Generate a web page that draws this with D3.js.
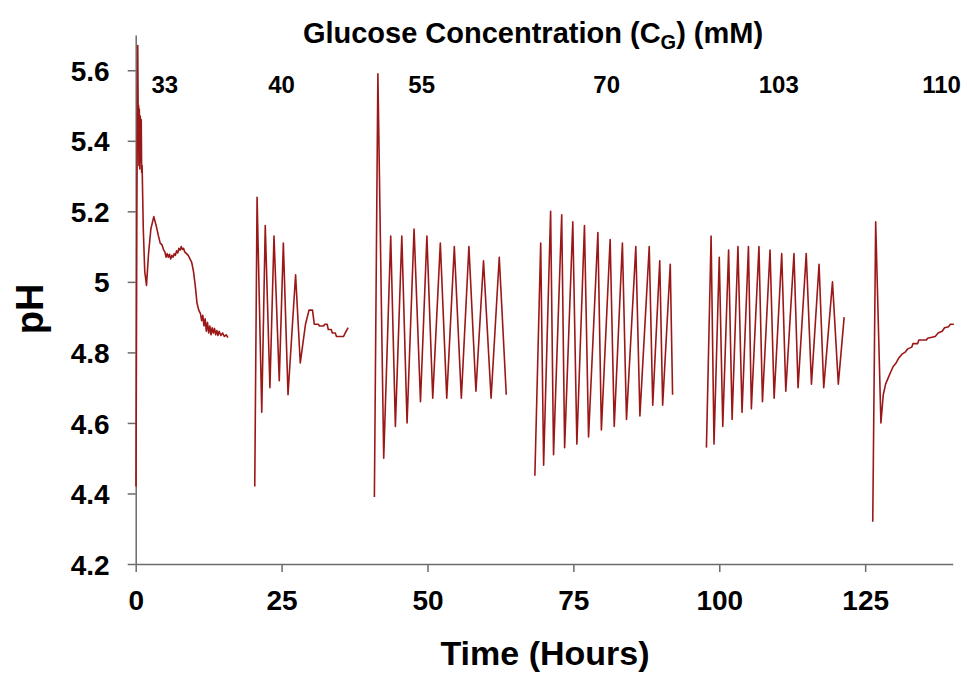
<!DOCTYPE html>
<html><head><meta charset="utf-8">
<script src="https://cdn.jsdelivr.net/npm/d3@7"></script>
<style>
body{margin:0;background:#fff;}
text{font-family:"Liberation Sans",Arial,sans-serif;font-weight:bold;fill:#000;}
</style></head>
<body><svg id="c" width="967" height="673"></svg>
<script>
// ---- data (hours, pH) ----
const concentrations = ["33","40","55","70","103","110"];
const labelHours = [5.0, 25.0, 49.0, 80.7, 110.2, 138.1];
const xTicks = [0,25,50,75,100,125];
const yTicks = [4.2,4.4,4.6,4.8,5.0,5.2,5.4,5.6];
const yTickLabels = ["4.2","4.4","4.6","4.8","5","5.2","5.4","5.6"];

const seg33 = [[0.05,4.42],[0.2,5.2],[0.35,5.67],[0.45,5.40],[0.5,5.50],[0.55,5.33],[0.62,5.49],[0.7,5.32],[0.78,5.47],[0.86,5.34],[0.95,5.46],[1.02,5.31],[1.1,5.33],[1.3,5.15],[1.55,5.03],[1.85,4.99],[2.2,5.08],[2.6,5.15],[3.1,5.185],[3.5,5.16],[3.9,5.13],[4.2,5.11],[4.5,5.105],[4.8,5.09],[5.0,5.085],[5.2,5.07],[5.4,5.08],[5.6,5.07],[5.8,5.078],[6.0,5.065],[6.2,5.075],[6.4,5.07],[6.6,5.08],[6.8,5.075],[7.0,5.088],[7.2,5.082],[7.4,5.095],[7.6,5.09],[7.8,5.10],[8.0,5.092],[8.2,5.095],[8.4,5.085],[8.7,5.08],[9.0,5.075],[9.3,5.065],[9.6,5.055],[9.9,5.03],[10.2,4.99],[10.5,4.94],[10.8,4.92],[11.1,4.91],[11.3,4.89],[11.5,4.905],[11.7,4.875],[11.9,4.895],[12.1,4.86],[12.3,4.885],[12.5,4.855],[12.7,4.875],[12.9,4.85],[13.1,4.87],[13.3,4.855],[13.5,4.868],[13.7,4.85],[13.9,4.862],[14.1,4.848],[14.3,4.86],[14.6,4.848],[14.9,4.855],[15.2,4.845],[15.5,4.85],[15.8,4.842]];
const seg40 = [[20.4,4.42],[20.8,5.24],[21.6,4.63],[22.2,5.16],[23.0,4.70],[23.7,5.13],[24.6,4.72],[25.3,5.11],[26.1,4.68],[27.4,5.02],[28.2,4.77],[29.1,4.88],[29.7,4.92],[30.3,4.92],[30.6,4.88],[31.3,4.88],[31.5,4.875],[32.2,4.875],[32.4,4.88],[32.8,4.88],[33.0,4.865],[33.5,4.865],[33.7,4.855],[34.2,4.855],[34.4,4.845],[35.6,4.845],[35.9,4.855],[36.4,4.87]];
const seg55 = [[40.9,4.39],[41.5,5.59],[42.5,4.50],[43.7,5.13],[44.5,4.59],[45.6,5.13],[46.5,4.60],[47.7,5.15],[48.8,4.66],[49.9,5.13],[50.9,4.67],[52.2,5.11],[53.3,4.67],[54.6,5.10],[55.8,4.67],[57.1,5.10],[58.3,4.69],[59.6,5.06],[60.9,4.67],[62.3,5.07],[63.5,4.68]];
const seg70 = [[68.4,4.45],[69.4,5.11],[69.9,4.48],[71.1,5.20],[71.6,4.51],[73.0,5.19],[73.5,4.53],[74.9,5.17],[75.6,4.54],[76.9,5.16],[77.6,4.56],[79.2,5.14],[79.8,4.58],[81.3,5.12],[82.0,4.59],[83.4,5.11],[84.1,4.61],[85.7,5.10],[86.4,4.62],[88.0,5.10],[88.6,4.65],[89.8,5.06],[90.3,4.65],[91.6,5.05],[92.0,4.68]];
const seg103 = [[97.8,4.53],[98.6,5.13],[99.1,4.54],[100.0,5.07],[100.6,4.59],[101.6,5.09],[102.2,4.61],[103.2,5.10],[103.9,4.63],[105.0,5.10],[105.5,4.64],[106.8,5.10],[107.4,4.66],[108.7,5.09],[109.4,4.67],[110.7,5.08],[111.4,4.69],[112.8,5.08],[113.5,4.70],[114.9,5.08],[115.8,4.71],[117.1,5.05],[117.9,4.70],[119.4,5.00],[120.4,4.71],[121.4,4.90]];
const seg110 = [[126.3,4.32],[126.8,5.17],[127.7,4.60],[128.1,4.68],[128.5,4.71],[129.0,4.73],[129.4,4.745],[129.8,4.76],[130.3,4.77],[130.8,4.785],[131.3,4.795],[131.8,4.80],[132.3,4.81],[133.0,4.815],[133.2,4.825],[134.0,4.825],[134.2,4.835],[135.5,4.835],[135.7,4.84],[137.0,4.845],[137.5,4.855],[138.2,4.86],[138.6,4.87],[139.3,4.873],[139.6,4.88],[140.2,4.88]];
const segments = [seg33, seg40, seg55, seg70, seg103, seg110];

// ---- chart ----
const svg = d3.select("#c");
const x = d3.scaleLinear().domain([0,140]).range([135.7,952.7]);
const y = d3.scaleLinear().domain([4.2,5.7]).range([564,35]);
const axisColor = "#6b6b6b";

const gx = svg.append("g").attr("transform","translate(0,564)")
  .call(d3.axisBottom(x).tickValues(xTicks).tickSize(8).tickSizeOuter(0).tickPadding(18).tickFormat(d3.format("d")));
const gy = svg.append("g").attr("transform","translate(135.7,0)")
  .call(d3.axisLeft(y).tickValues(yTicks).tickSize(8).tickSizeOuter(0).tickPadding(18).tickFormat((d,i)=>yTickLabels[i]));
[gx,gy].forEach(g=>{
  g.selectAll(".domain").attr("stroke",axisColor).attr("stroke-width",1.5);
  g.selectAll(".tick line").attr("stroke",axisColor).attr("stroke-width",1.5);
  g.selectAll(".tick text").attr("font-size",28).attr("font-family","'Liberation Sans',Arial,sans-serif").attr("font-weight","bold").attr("fill","#000");
});
gy.selectAll(".tick text").attr("dy","0.36em");
gx.selectAll(".tick text").attr("dy","0.71em");

const line = d3.line().x(d=>x(d[0])).y(d=>y(d[1]));
svg.append("g").selectAll("path").data(segments).join("path")
  .attr("d",line).attr("fill","none").attr("stroke","#9b1818").attr("stroke-width",1.6).attr("stroke-linejoin","round");

// concentration labels
svg.append("g").selectAll("text").data(concentrations).join("text")
  .attr("x",(d,i)=>x(labelHours[i])).attr("y",93).attr("text-anchor","middle").attr("font-size",24).text(d=>d);

// title
const t = svg.append("text").attr("x",533).attr("y",43).attr("text-anchor","middle").attr("font-size",29);
t.append("tspan").text("Glucose Concentration (C");
t.append("tspan").attr("font-size",20).attr("dy",6).text("G");
t.append("tspan").attr("dy",-6).text(") (mM)");

svg.append("text").attr("x",545).attr("y",665).attr("text-anchor","middle").attr("font-size",34).text("Time (Hours)");
svg.append("text").attr("transform","translate(43,309) rotate(-90)").attr("text-anchor","middle").attr("font-size",38).text("pH");
</script></body></html>
